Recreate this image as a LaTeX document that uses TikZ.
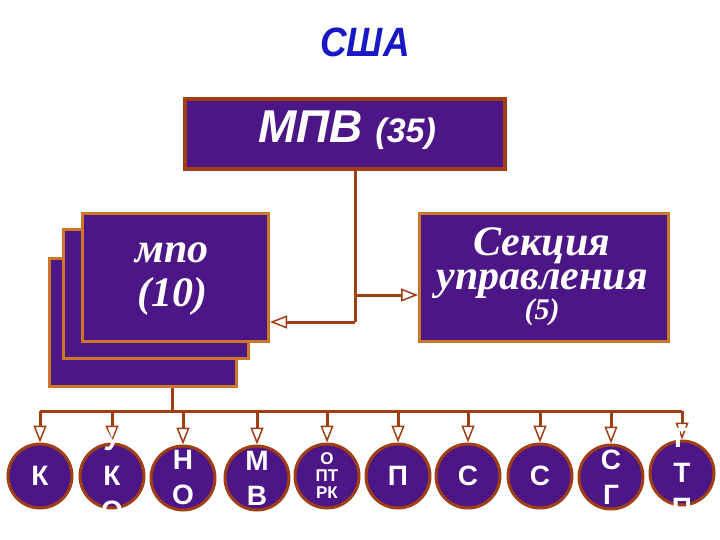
\documentclass[tikz,border=0pt]{standalone}
\usepackage{fontspec}
\setmainfont{Liberation Serif}
\setsansfont{Liberation Sans}
\usetikzlibrary{arrows.meta,backgrounds}
\definecolor{fondo}{RGB}{76,22,134}
\definecolor{marron}{RGB}{160,62,20}
\definecolor{naranja}{RGB}{205,118,42}
\definecolor{azul}{RGB}{24,24,196}
\tikzset{
  caja/.style={draw=naranja,fill=fondo,line width=3pt,anchor=north west,inner sep=0pt},
  circulo/.style={circle,draw=marron,fill=fondo,line width=3pt,minimum size=64pt,inner sep=0pt},
  grande/.style={text=white,align=center,font=\sffamily\bfseries\fontsize{28}{35}\selectfont},
  chica/.style={text=white,align=center,font=\sffamily\bfseries\fontsize{17}{17}\selectfont},
  linea/.style={draw=marron,line width=3pt},
  flecha/.style={linea,-{Triangle[length=17pt,width=13pt,fill=white,line width'=1.5pt]}}
}
\begin{document}
\begin{tikzpicture}[x=1pt,y=-1pt]
\useasboundingbox (0,0) rectangle (720,540);
% Titulo
\node[text=azul,font=\sffamily\bfseries\itshape\fontsize{41}{41}\selectfont,xscale=0.9] (titulo) at (365,42) {США};
% Cajas de arriba
\node[caja,draw=marron,line width=4pt,minimum width=320pt,minimum height=70pt] (mpv) at (183,97) {};
\node[text=white,font=\sffamily\bfseries\itshape\fontsize{46}{46}\selectfont] (mpvtxt) at (347,130) {МПВ {\fontsize{34}{34}\selectfont(35)}};
\node[caja,minimum width=187pt,minimum height=128pt] (atras) at (48,257) {};
\node[caja,minimum width=185pt,minimum height=129pt] (medio) at (62,228) {};
\node[caja,minimum width=186pt,minimum height=128pt] (mpo) at (81,212) {};
\node[text=white,font=\bfseries\itshape\fontsize{42}{44}\selectfont,align=center] (mpotxt) at (172,279) {мпо\\(10)};
\node[caja,minimum width=249pt,minimum height=128pt] (seccion) at (418,212) {};
\node[text=white,font=\bfseries\itshape\fontsize{42}{34}\selectfont,align=center] (secciontxt) at (542,277) {Секция\\управления\\[-4pt]{\fontsize{30}{30}\selectfont(5)}};
% Circulos de abajo
\foreach \x/\y/\t/\s [count=\i] in {40/476/К/grande, 112/476/{У\\К\\О}/grande, 183/478/{Н\\О}/grande, 257/478/{М\\В}/grande, 327/476/{О\\ПТ\\РК}/chica, 398/476/П/grande, 468/476/С/grande, 540/476/С/grande, 611/477/{С\\Г}/grande, 682/473/{Г\\Т\\П}/grande}
{
  \node[circulo] (c\i) at (\x,\y) {};
  \node[\s] (t\i) at (\x,\y) {\t};
}
\coordinate (bus) at (172,411);
\coordinate (tronco) at (355,295);
% Conectores
\begin{scope}[on background layer]
\draw[linea] (mpv.south -| tronco) -- (355,322);
\draw[flecha] (355,322) -- (mpo.east |- 0,322);
\draw[flecha] (tronco) -- (seccion.west |- tronco);
\draw[linea] (atras.south -| bus) -- (bus);
\draw[linea] (c1.north |- bus) -- (c10.north |- bus);
\foreach \i in {1,...,10}
  \draw[flecha] (c\i.north |- bus) -- (c\i.north);
\end{scope}
\end{tikzpicture}
\end{document}
